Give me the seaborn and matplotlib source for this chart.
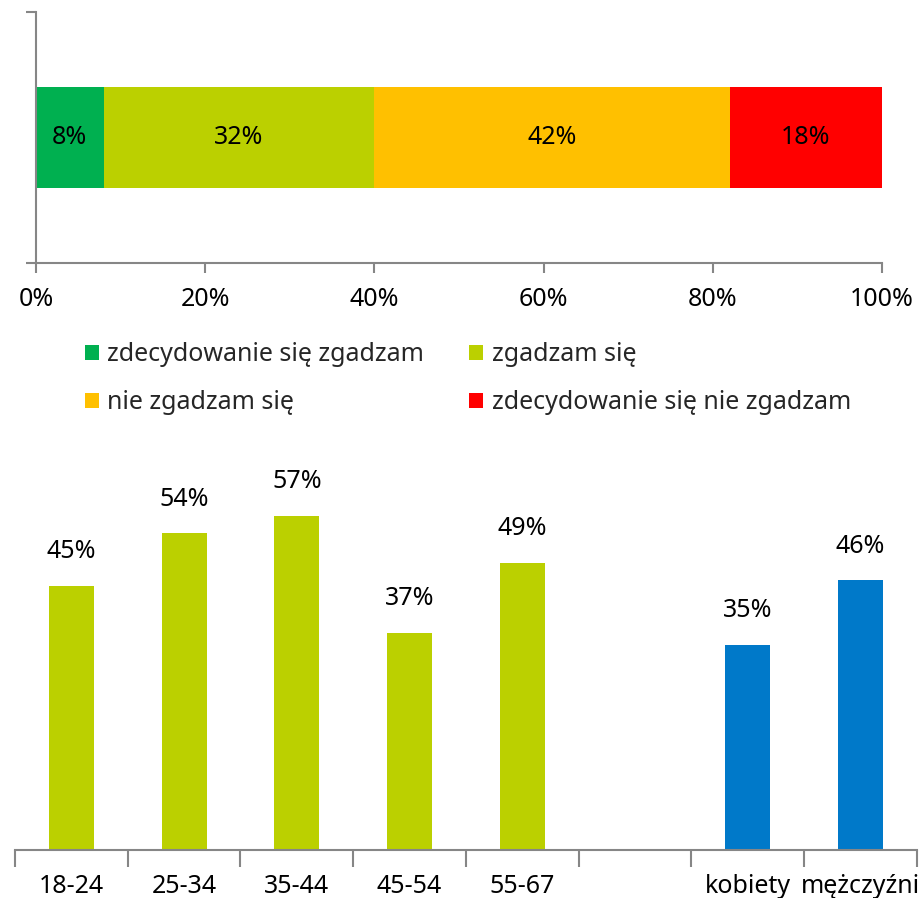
import matplotlib
matplotlib.use("Agg")
import matplotlib.pyplot as plt
from matplotlib.patches import Patch
import numpy as np
import pandas as pd
import seaborn as sns

# Overall answer distribution (share of respondents, %)
answer_labels = ["zdecydowanie się zgadzam", "zgadzam się",
                 "nie zgadzam się", "zdecydowanie się nie zgadzam"]
answer_values = [8, 32, 42, 18]
answer_colors = ["#00B050", "#BBD000", "#FFC000", "#FF0000"]

# Agreement by group (%)
group_names = ["18-24", "25-34", "35-44", "45-54", "55-67", "kobiety", "mężczyźni"]
group_values = [45, 54, 57, 37, 49, 35, 46]
group_kind = ["wiek", "wiek", "wiek", "wiek", "wiek", "płeć", "płeć"]
group_order = ["18-24", "25-34", "35-44", "45-54", "55-67", " ", "kobiety", "mężczyźni"]
kind_colors = {"wiek": "#BBD000", "płeć": "#0079C9"}

x_ticks = [0, 20, 40, 60, 80, 100]

sns.set_theme(style="white")
plt.rcParams["font.family"] = ["Noto Sans", "DejaVu Sans"]
FS = 18
SPINE = "#868686"

W, H = 920, 898
fig = plt.figure(figsize=(W / 100, H / 100), dpi=100)


def px_axes(x0, y0, x1, y1):
    return fig.add_axes([x0 / W, 1 - y1 / H, (x1 - x0) / W, (y1 - y0) / H])


# ---- stacked horizontal bar ----
ax1 = px_axes(36, 12, 882, 263)
cum = np.cumsum(answer_values)
for total, color in reversed(list(zip(cum, answer_colors))):
    sns.barplot(x=[total / 100], y=[""], orient="h", color=color,
                width=0.4, saturation=1, linewidth=0, ax=ax1)
starts = np.concatenate([[0], cum[:-1]])
for s, v in zip(starts, answer_values):
    ax1.text((s + v / 2) / 100, 0, f"{v}%", ha="center", va="center",
             fontsize=FS, color="black")
ax1.set_xlim(0, 1)
ax1.set_ylim(0.5, -0.5)
ax1.set_xticks([t / 100 for t in x_ticks])
ax1.set_xticklabels([f"{t}%" for t in x_ticks], fontsize=FS)
ax1.set_yticks([-0.5, 0.5])
ax1.set_yticklabels(["", ""])
ax1.set_xlabel("")
ax1.set_ylabel("")
for side in ["top", "right"]:
    ax1.spines[side].set_visible(False)
for side in ["left", "bottom"]:
    ax1.spines[side].set_color(SPINE)
    ax1.spines[side].set_linewidth(1.5)
ax1.tick_params(axis="both", which="major", direction="out", length=7,
                width=1.5, color=SPINE, bottom=True, left=True)
ax1.tick_params(axis="x", pad=10, labelcolor="black")

# legend laid out row by row
leg_order = [0, 2, 1, 3]
handles = [Patch(facecolor=answer_colors[i], edgecolor="none") for i in leg_order]
labels = [answer_labels[i] for i in leg_order]
fig.legend(handles, labels, loc="upper left",
           bbox_to_anchor=(85 / W, 1 - 342 / H), ncol=2, frameon=False,
           fontsize=FS, handlelength=0.55, handleheight=0.55,
           handletextpad=0.35, columnspacing=1.8, labelspacing=0.93,
           borderaxespad=0, borderpad=0)

# ---- vertical bars by group ----
ax2 = px_axes(15, 498, 917, 850)
df = pd.DataFrame({"grupa": group_names, "wartosc": group_values,
                   "rodzaj": group_kind})
sns.barplot(data=df, x="grupa", y="wartosc", hue="rodzaj", order=group_order,
            palette=kind_colors, dodge=False, width=0.4, saturation=1,
            linewidth=0, legend=False, ax=ax2)
for name, v in zip(group_names, group_values):
    ax2.annotate(f"{v}%", (group_order.index(name), v), xytext=(0, 34),
                 textcoords="offset pixels", ha="center", va="center",
                 fontsize=FS, color="black", annotation_clip=False)
n = len(group_order)
ax2.set_xlim(-0.5, n - 0.5)
ax2.set_ylim(0, 60)
ax2.set_xticks(np.arange(n + 1) - 0.5)
ax2.set_xticklabels([""] * (n + 1))
ax2.set_xticks(np.arange(n), minor=True)
ax2.set_xticklabels(group_order, minor=True, fontsize=FS)
ax2.set_yticks([])
ax2.set_xlabel("")
ax2.set_ylabel("")
for side in ["top", "right", "left"]:
    ax2.spines[side].set_visible(False)
ax2.spines["bottom"].set_color(SPINE)
ax2.spines["bottom"].set_linewidth(1.5)
ax2.tick_params(axis="x", which="major", direction="out", length=12,
                width=1.5, color=SPINE, bottom=True)
ax2.tick_params(axis="x", which="minor", length=0, pad=17, labelcolor="black",
                bottom=True)

fig.savefig("out.png", dpi=100)
